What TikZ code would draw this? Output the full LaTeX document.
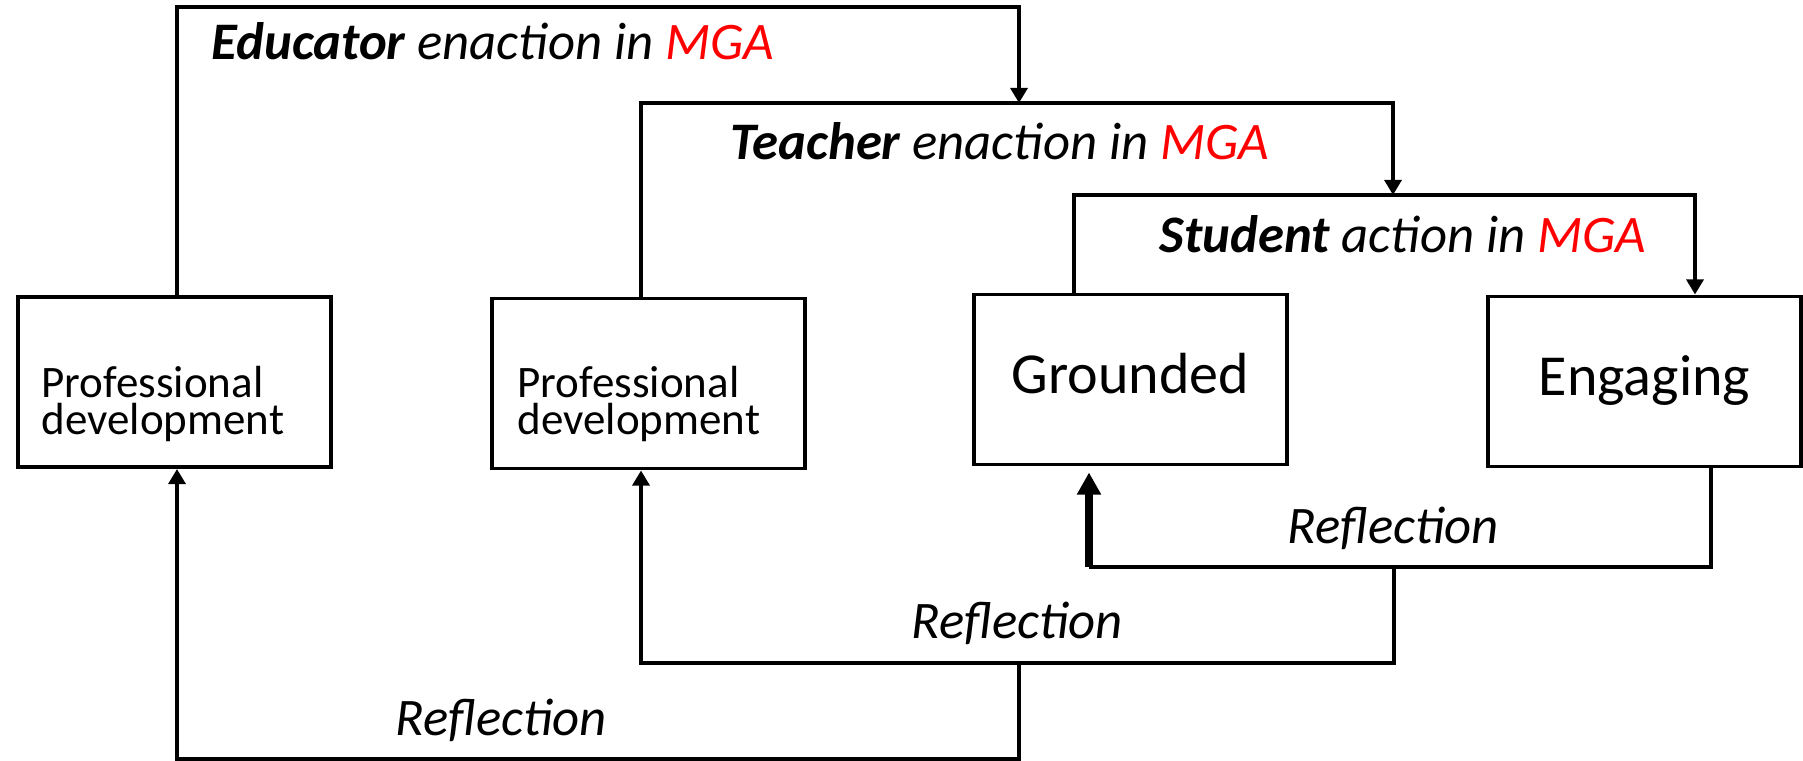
\documentclass[tikz,border=0pt]{standalone}
\usepackage{fontspec}
\setmainfont{Carlito}
\usetikzlibrary{arrows.meta, positioning}
\definecolor{mgared}{RGB}{255,0,0}

\begin{document}
\begin{tikzpicture}[
    x=0.01cm, y=-0.01cm,
    >={Triangle[length=4.3pt, width=4.8pt]},
    stagebox/.style={draw, rectangle, line width=1.1pt, minimum width=3.13cm, minimum height=1.70cm, inner sep=0pt},
    stagetxt/.style={font=\fontsize{16.5}{19}\selectfont, text height=11.5pt, text depth=3.3pt},
    pdtxt/.style={align=left, inner sep=0pt, font=\fontsize{12.8}{10.6}\selectfont},
    looptxt/.style={inner sep=0pt, font=\fontsize{15}{18}\selectfont\itshape},
    loopline/.style={line width=1.1pt, black},
    looparrow/.style={->, line width=1.1pt, black},
    boldarrow/.style={-{Triangle[length=6.3pt, width=6.5pt]}, line width=2.3pt, black}
]
\useasboundingbox (0,0) rectangle (1803,761);

% Boxes
\node[stagebox] (pd_edu) at (174.5,382) {};
\node[stagebox] (pd_tch) at (648.5,383.5) {};
\node[stagebox, stagetxt] (grounded) at (1130.5,379.5) {Grounded};
\node[stagebox, stagetxt] (engaging) at (1644.5,381.5) {Engaging};
\node[pdtxt, anchor=west] (pd_edu_txt) at (41,404) {Professional\\development};
\node[pdtxt, anchor=west] (pd_tch_txt) at (517,404) {Professional\\development};

% Enaction loops (top)
\coordinate (edu_l) at (177,7);
\coordinate (edu_r) at (1019,7);
\coordinate (tch_l) at (641,103);
\coordinate (tch_r) at (1393,103);
\coordinate (stu_l) at (1074,195);
\coordinate (stu_r) at (1695,195);
\draw[looparrow] (pd_edu.north -| edu_l) -- (edu_l) -- (edu_r) -- (edu_r |- tch_l);
\draw[looparrow] (pd_tch.north -| tch_l) -- (tch_l) -- (tch_r) -- (tch_r |- stu_l);
\draw[looparrow] (grounded.north -| stu_l) -- (stu_l) -- (stu_r) -- (engaging.north -| stu_r);

\node[looptxt, anchor=base] (edu_lbl) at (493,60) {\textbf{Educator} enaction in \textcolor{mgared}{MGA}};
\node[looptxt, anchor=base] (tch_lbl) at (1000,160) {\textbf{Teacher} enaction in \textcolor{mgared}{MGA}};
\node[looptxt, anchor=base] (stu_lbl) at (1403,253) {\textbf{Student} action in \textcolor{mgared}{MGA}};

% Reflection loops (bottom)
\coordinate (rin_r) at (1711,567);
\coordinate (rin_l) at (1089,567);
\coordinate (rmid_r) at (1394,663);
\coordinate (rmid_l) at (641,663);
\coordinate (rout_r) at (1019,759);
\coordinate (rout_l) at (177,759);
\draw[loopline] (engaging.south -| rin_r) -- (rin_r) -- (rin_l);
\draw[boldarrow, shorten >=1.7pt] (rin_l) -- (grounded.south -| rin_l);
\draw[looparrow] (rmid_r |- rin_r) -- (rmid_r) -- (rmid_l) -- (pd_tch.south -| rmid_l);
\draw[looparrow] (rout_r |- rmid_r) -- (rout_r) -- (rout_l) -- (pd_edu.south -| rout_l);

\node[looptxt, anchor=base] (refl_in) at (1393,543) {Reflection};
\node[looptxt, anchor=base] (refl_mid) at (1017,638) {Reflection};
\node[looptxt, anchor=base] (refl_out) at (501,735) {Reflection};

\end{tikzpicture}
\end{document}
